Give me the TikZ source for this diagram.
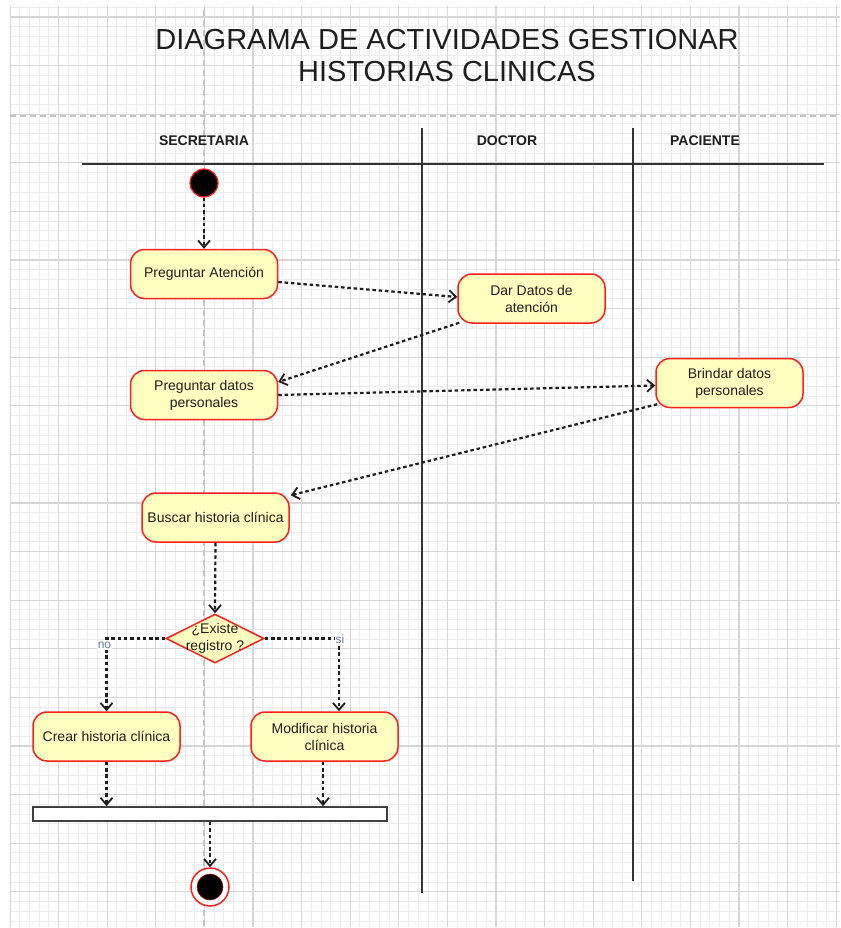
\documentclass[tikz,border=0pt]{standalone}
\usepackage{fontspec}
\setmainfont{Liberation Sans}
\usetikzlibrary{arrows.meta,shapes.geometric,calc}
\definecolor{gridmajor}{HTML}{D6D6D6}
\definecolor{gridminor}{HTML}{ECECEC}
\definecolor{pagebreak}{HTML}{C4C4C4}
\definecolor{actfill}{HTML}{FFFFC0}
\definecolor{actline}{HTML}{FF2020}
\definecolor{inkc}{HTML}{1E1E1E}
\definecolor{lanec}{HTML}{333333}
\definecolor{guardc}{HTML}{6A78A8}
\tikzset{
  act/.style={rectangle, rounded corners=14pt, draw=actline, fill=actfill,
    line width=1.5pt, minimum width=147pt, minimum height=49pt, inner sep=2pt,
    align=center, text=inkc, font=\fontsize{14}{17}\selectfont},
  decision/.style={diamond, draw=actline, fill=actfill, line width=1.5pt,
    minimum width=98pt, minimum height=49pt, inner sep=0pt},
  flow/.style={draw=inkc, line width=2.2pt, dash pattern=on 3.5pt off 2.8pt,
    -{Straight Barb[length=7pt,width=12pt,line width=1.8pt]}},
  lanehead/.style={font=\bfseries\fontsize{14}{16}\selectfont, text=inkc},
  lanesep/.style={draw=lanec, line width=2.2pt},
  guard/.style={font=\fontsize{12}{14}\selectfont, text=guardc, fill=white, inner sep=1pt},
}
\begin{document}
\begin{tikzpicture}[x=1pt,y=-1pt]
\useasboundingbox (0,0) rectangle (840,928);
\fill[white] (0,0) rectangle (840,928);

% background grid
\begin{scope}
  \clip (10,7) rectangle (840,926);
  \foreach \i in {0,...,86} \draw[gridminor, line width=0.9pt] ({10+\i*9.72},0) -- ({10+\i*9.72},928);
  \foreach \i in {-1,...,95} \draw[gridminor, line width=0.9pt] (0,{17+\i*9.72}) -- (840,{17+\i*9.72});
  \foreach \i in {0,...,17} \draw[gridmajor, line width=1.1pt] ({10+\i*48.6},0) -- ({10+\i*48.6},928);
  \foreach \i in {0,...,19} \draw[gridmajor, line width=1.1pt] (0,{17+\i*48.6}) -- (840,{17+\i*48.6});
  % page break marks
  \draw[pagebreak, line width=1.6pt, dash pattern=on 6pt off 4pt] (204,0) -- (204,928);
  \draw[pagebreak, line width=1.6pt, dash pattern=on 6pt off 4pt] (0,116) -- (840,116);
\end{scope}

% title
\node[align=center, text=inkc, font=\fontsize{29}{32}\selectfont] (title) at (447,56)
  {DIAGRAMA DE ACTIVIDADES GESTIONAR\\HISTORIAS CLINICAS};

% swimlanes
\node[lanehead] (laneS) at (204,141) {SECRETARIA};
\node[lanehead] (laneD) at (507,141) {DOCTOR};
\node[lanehead] (laneP) at (705,141) {PACIENTE};
\draw[lanesep] (82,164) -- (824,164);
\draw[lanesep] (422,128) -- (422,893);
\draw[lanesep] (633,128) -- (633,881);

% activities
\node[circle, fill=black, draw=actline, line width=1.2pt, minimum size=28pt, inner sep=0pt] (start) at (204,183) {};
\node[act] (pa) at (204,274) {Preguntar Atención};
\node[act] (dd) at (531.5,298.5) {Dar Datos de\\atención};
\node[act] (pd) at (204,395) {Preguntar datos\\personales};
\node[act] (bd) at (729.5,383) {Brindar datos\\personales};
\node[act] (bh) at (215.5,517.5) {Buscar historia clínica};
\node[decision] (dec) at (215,638.5) {};
\node[align=center, text=inkc, font=\fontsize{14}{17}\selectfont] (decText) at (dec.center) {¿Existe\\registro ?};
\node[act] (ch) at (106.5,736.5) {Crear historia clínica};
\node[act] (mh) at (324.5,736.5) {Modificar historia\\clínica};
\node[rectangle, draw=black!75, fill=white, line width=1.8pt, minimum width=354pt, minimum height=14pt, inner sep=0pt] (bar) at (210,814) {};
\node[circle, draw=actline, fill=white, line width=1.5pt, minimum size=38pt, inner sep=0pt] (end) at (210,887) {};
\node[circle, fill=black, draw=actline!60!black, line width=0.6pt, minimum size=26pt, inner sep=0pt] (endDot) at (end.center) {};

% control flow
\draw[flow] (start.south) -- (pa.north);
\draw[flow] ([yshift=-8pt]pa.east) -- ([yshift=1.5pt]dd.west);
\draw[flow] ([xshift=2pt,yshift=1pt]dd.south west) -- ([yshift=13pt]pd.east);
\draw[flow] (pd.east) -- ([yshift=-2.5pt]bd.west);
\draw[flow] ([xshift=2pt,yshift=4pt]bd.south west) -- ([xshift=1pt,yshift=-3pt]bh.north east);
\draw[flow] (bh.south) -- (dec.north);
\draw[flow] (dec.west) -| node[guard, pos=0.5, xshift=-2pt, yshift=-7pt] {no} (ch.north);
\draw[flow] (dec.east) -| node[guard, pos=0.5, xshift=1pt, yshift=-1pt] {si} ([xshift=14.5pt]mh.north);
\draw[flow] (ch.south) -- (ch.south |- bar.north);
\draw[flow] ([xshift=-1.5pt]mh.south) -- ([xshift=-1.5pt]mh.south |- bar.north);
\draw[flow] (bar.south) -- (end.north);
\end{tikzpicture}
\end{document}
